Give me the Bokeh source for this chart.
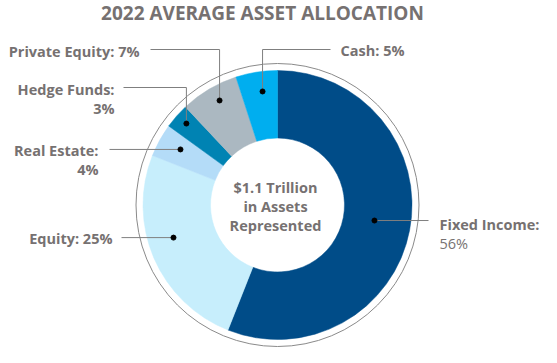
import math
from bokeh.plotting import figure
from bokeh.models import Range1d, ColumnDataSource
from bokeh.core.properties import value
from bokeh.embed import file_html
from bokeh.resources import INLINE

# ---- data ----
categories = ["Fixed Income", "Equity", "Real Estate", "Hedge Funds", "Private Equity", "Cash"]
shares = [56, 25, 4, 3, 7, 5]
colors = ["#004C88", "#C7EEFC", "#B4DCF8", "#0083B3", "#ABB8C1", "#00AEEF"]
two_line = [True, False, True, True, False, False]
title_text = "2022 AVERAGE ASSET ALLOCATION"
center_lines = ["$1.1 Trillion", "in Assets", "Represented"]

# ---- layout (page pixel coords, y downward) ----
W, H = 557, 363
CX, CY = 285, 212.5
R_IN, R_OUT, R_RING = 67, 134.5, 141.5
dot_r = [98.2, 109, 111.8, 122.2, 119.5, 114.5]
dot_da = [1.7, -6.0, -1.0, -0.4, -1.6, -1.5]
kind = ["h", "h", "h", "v", "v", "v"]
elbow_y = [None, None, None, 95, 57, 57]
line_end = [436, 129, 117, 131, 158, 338]
text_x = [447, 120, 106, 122, 147, 348]
text_y = [232, 246, 158, 97, 59, 58]
align = ["left", "right", "right", "right", "right", "left"]
TXT = "#767171"
FONT = value("Open Sans")
LBL = "14.5px"


def Y(py):
    return H - py


p = figure(width=541, height=347, x_range=Range1d(8, 549), y_range=Range1d(8, 355),
           output_backend="svg", toolbar_location=None, x_axis_type=None, y_axis_type=None,
           min_border=0, outline_line_color=None, background_fill_color="white",
           border_fill_color="white")
p.grid.visible = False

# outer ring
p.circle(x=[CX], y=[Y(CY)], radius=R_RING, fill_color="white", line_color="#8A8A8A", line_width=1)

# wedges
total = sum(shares)
starts, ends, mids = [], [], []
cum = 0
for v in shares:
    s = 90 - cum / total * 360
    cum += v
    e = 90 - cum / total * 360
    starts.append(math.radians(s))
    ends.append(math.radians(e))
    mids.append((s + e) / 2)
src = ColumnDataSource(dict(start=starts, end=ends, color=colors, cat=categories))
p.annular_wedge(x=CX, y=Y(CY), inner_radius=R_IN, outer_radius=R_OUT, start_angle="start",
                end_angle="end", direction="clock", fill_color="color",
                line_color="color", line_width=0.5, source=src)

# leaders, dots, labels
xs, ys, dx_, dy_ = [], [], [], []
for i, (c, v) in enumerate(zip(categories, shares)):
    a = math.radians(mids[i] + dot_da[i])
    px = CX + dot_r[i] * math.cos(a)
    py = CY - dot_r[i] * math.sin(a)
    dx_.append(px)
    dy_.append(Y(py))
    if kind[i] == "h":
        xs.append([px, line_end[i]])
        ys.append([Y(py), Y(py)])
    else:
        xs.append([px, px, line_end[i]])
        ys.append([Y(py), Y(elbow_y[i]), Y(elbow_y[i])])
    if two_line[i]:
        p.text(x=[text_x[i]], y=[Y(text_y[i])], text=[f"{c}:"], text_font=FONT,
               text_font_style="bold", text_font_size=LBL, text_color=TXT,
               text_align=align[i], text_baseline="middle")
        p.text(x=[text_x[i]], y=[Y(text_y[i] + 19)], text=[f"{v}%"], text_font=FONT,
               text_font_style="bold" if align[i] == "right" else "normal",
               text_font_size=LBL, text_color=TXT,
               text_align=align[i], text_baseline="middle")
    else:
        p.text(x=[text_x[i]], y=[Y(text_y[i])], text=[f"{c}: {v}%"], text_font=FONT,
               text_font_style="bold", text_font_size=LBL, text_color=TXT,
               text_align=align[i], text_baseline="middle")

p.multi_line(xs=xs, ys=ys, line_color="#7F7F7F", line_width=1)
p.scatter(x=dx_, y=dy_, size=5, color="black")

# title
p.text(x=[270], y=[Y(20)], text=[title_text], text_font=FONT, text_font_style="bold",
       text_font_size="19px", text_color=TXT, text_align="center", text_baseline="middle")

# center text
for k, t in enumerate(center_lines):
    p.text(x=[283], y=[Y(195 + 19 * k)], text=[t], text_font=FONT, text_font_style="bold",
           text_font_size="14.5px", text_color=TXT, text_align="center", text_baseline="middle")

open("out.html", "w").write(file_html(p, INLINE))
